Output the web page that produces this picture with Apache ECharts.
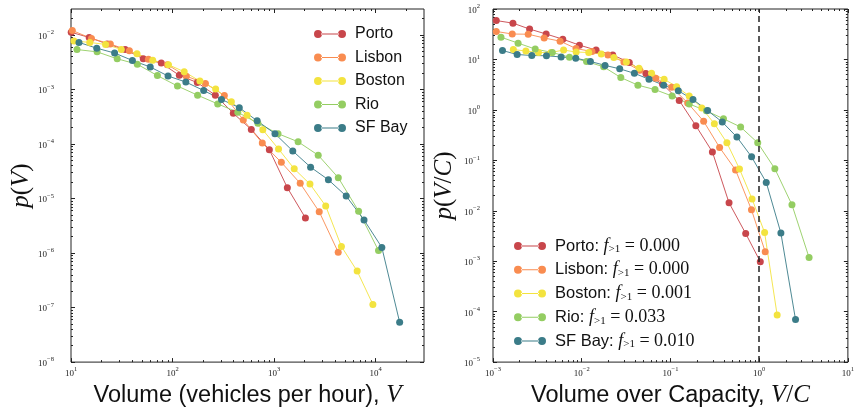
<!DOCTYPE html>
<html>
<head>
<meta charset="utf-8">
<script src="https://cdn.jsdelivr.net/npm/echarts@6/dist/echarts.min.js"></script>
<style>
    html, body { margin: 0; padding: 0; background: #fff; }
    #main { width: 857px; height: 413px; }
</style>
</head>
<body>
<div id="main"></div>
<script>
var cities = ['Porto', 'Lisbon', 'Boston', 'Rio', 'SF Bay'];
var colors = ['#c8464b', '#f98c50', '#f3e33f', '#94cd62', '#3b7c88'];
var fAbove = ['0.000', '0.000', '0.001', '0.033', '0.010'];

// left panel: volume V (vehicles per hour) -> p(V)
var portoV = [10.05, 15.1, 22.7, 34.2, 51.5, 77.5, 116.7, 175.4, 264, 397, 597, 899, 1352, 2037];
var portoP = [0.0112, 0.00902, 0.00686, 0.00541, 0.00366, 0.00306, 0.00182, 0.00134, 0.000787, 0.000366, 0.000185, 7.87e-5, 1.58e-5, 4.42e-6];
var lisbonV = [10.3, 15.9, 24.4, 37.6, 57.9, 88.9, 136.8, 210.9, 324, 498, 766, 1180, 1811, 2786, 4285];
var lisbonP = [0.0121, 0.00863, 0.00686, 0.00512, 0.00359, 0.00285, 0.00176, 0.00129, 0.000778, 0.000277, 0.000104, 4.61e-5, 1.90e-5, 5.73e-6, 1.04e-6];
var bostonV = [10.7, 15.3, 21.9, 31.3, 44.7, 63.8, 91.2, 130.3, 186.1, 265.9, 379.8, 542.6, 775.1, 1107, 1581, 2259, 3228, 4611, 6588, 9409];
var bostonP = [0.00778, 0.00731, 0.00671, 0.00545, 0.00452, 0.00344, 0.00285, 0.00212, 0.00143, 0.00102, 0.000597, 0.000337, 0.000182, 8.11e-5, 3.51e-5, 1.84e-5, 7.31e-6, 1.32e-6, 4.67e-7, 1.14e-7];
var rioV = [11.45, 18.07, 28.5, 44.98, 70.96, 111.9, 176.6, 278.6, 439.5, 693.4, 1094, 1726, 2723, 4295, 6808, 10690];
var rioP = [0.00541, 0.00491, 0.00366, 0.00291, 0.00180, 0.00116, 0.000787, 0.000545, 0.000382, 0.000241, 0.000155, 0.000110, 6.24e-5, 2.41e-5, 5.87e-6, 1.11e-6];
var sfV = [11.98, 17.94, 26.88, 40.26, 60.31, 90.35, 135.3, 202.7, 303.7, 454.8, 681.3, 1021, 1529, 2290, 3430, 5138, 7697, 11530, 17270];
var sfP = [0.00731, 0.00573, 0.00467, 0.00341, 0.00259, 0.00177, 0.00137, 0.000959, 0.000658, 0.000465, 0.000267, 0.000155, 7.46e-5, 3.77e-5, 2.21e-5, 1.11e-5, 4.06e-6, 1.27e-6, 5.38e-8];

// right panel: volume over capacity V/C -> p(V/C)
var portoR = [0.001089, 0.001678, 0.002585, 0.003972, 0.006116, 0.009424, 0.01452, 0.02236, 0.03436, 0.05292, 0.08152, 0.1256, 0.1934, 0.2972, 0.4578, 0.7052, 1.03];
var portoPR = [58.96, 52.44, 40.0, 31.9, 25.2, 19.2, 15.35, 12.25, 8.73, 5.244, 3.235, 1.536, 0.4857, 0.1468, 0.01435, 0.00354, 0.000977];
var lisbonR = [0.001089, 0.001648, 0.002493, 0.003771, 0.005705, 0.00863, 0.01305, 0.01975, 0.02988, 0.0452, 0.06838, 0.1034, 0.1565, 0.2367, 0.3581, 0.5417, 0.8194, 1.17];
var lisbonPR = [35.88, 31.91, 31.62, 26.64, 23.05, 16.44, 14.35, 12.25, 8.93, 6.085, 4.242, 2.825, 1.372, 0.5949, 0.1798, 0.06452, 0.01046, 0.001536];
var bostonR = [0.001695, 0.002349, 0.003254, 0.004509, 0.006247, 0.008655, 0.01199, 0.01661, 0.02302, 0.03189, 0.04419, 0.06122, 0.08482, 0.1175, 0.1628, 0.2256, 0.3126, 0.4331, 0.6000, 0.8313, 1.152, 1.596];
var bostonPR = [15.71, 14.68, 13.72, 13.72, 15.36, 14.03, 13.72, 12.82, 10.94, 8.93, 6.66, 5.315, 4.054, 2.889, 1.882, 1.094, 0.5314, 0.2224, 0.06752, 0.01719, 0.003703, 8.54e-5];
var rioR = [0.00123, 0.001918, 0.00299, 0.004663, 0.007271, 0.01134, 0.01768, 0.02757, 0.04299, 0.06703, 0.1045, 0.163, 0.2542, 0.3963, 0.618, 0.9636, 1.503, 2.343, 3.653];
var rioPR = [27.62, 21.06, 16.07, 13.72, 11.09, 9.135, 7.128, 4.377, 3.092, 2.523, 1.882, 1.311, 0.9559, 0.6661, 0.4578, 0.2224, 0.06813, 0.01311, 0.001182];
var sfR = [0.001279, 0.001871, 0.002737, 0.004003, 0.005855, 0.008565, 0.01253, 0.01832, 0.0268, 0.0392, 0.05734, 0.08387, 0.1227, 0.1795, 0.2625, 0.384, 0.5617, 0.8216, 1.2017, 1.7578, 2.571];
var sfPR = [15.02, 12.53, 11.98, 11.82, 11.19, 10.6, 9.135, 7.627, 6.512, 5.315, 4.054, 3.092, 2.39, 1.607, 0.9689, 0.5739, 0.2889, 0.1171, 0.03653, 0.003621, 6.97e-5];

// axis ranges and decade tick labels (exponents of 10)
var leftXRange = [10, 30000], leftXExps = [1, 2, 3, 4];
var leftYRange = [1e-8, 0.03], leftYExps = [-8, -7, -6, -5, -4, -3, -2];
var rightXRange = [0.001, 10], rightXExps = [-3, -2, -1, 0, 1];
var rightYRange = [1e-5, 100], rightYExps = [-5, -4, -3, -2, -1, 0, 1, 2];

var leftData = [[portoV, portoP], [lisbonV, lisbonP], [bostonV, bostonP], [rioV, rioP], [sfV, sfP]];
var rightData = [[portoR, portoPR], [lisbonR, lisbonPR], [bostonR, bostonPR], [rioR, rioPR], [sfR, sfPR]];

var chart = echarts.init(document.getElementById('main'));
var ink = '#222';

function minorTicks(range) {
    var lo = Math.log10(range[0]), hi = Math.log10(range[1]);
    var out = [];
    for (var e = Math.floor(lo); e <= Math.ceil(hi); e++) {
        for (var m = 2; m <= 9; m++) {
            var v = e + Math.log10(m);
            if (v > lo + 1e-9 && v < hi - 1e-9) out.push(v);
        }
    }
    return out;
}

function powLabel(v) {
    var s = v < 0 ? '\u2212' + Math.abs(v) : String(v);
    return '{b|10}{s|' + s + '}';
}

var tickRich = {
    b: { fontFamily: 'Liberation Serif', fontSize: 9, lineHeight: 12, color: ink, verticalAlign: 'bottom' },
    s: { fontFamily: 'Liberation Serif', fontSize: 6.5, lineHeight: 7, color: ink, verticalAlign: 'top' }
};
var nameRich = {
    t: { fontFamily: 'Liberation Sans', fontSize: 23.5, color: '#111' },
    i: { fontFamily: 'Liberation Serif', fontStyle: 'italic', fontSize: 25, color: '#111' },
    r: { fontFamily: 'Liberation Serif', fontSize: 25, color: '#111' }
};

// one hidden log axis carries the data, linear overlays (in log10 units) draw the ticks
function buildAxes(dim, g, range, exps, labelMargin, name, nameGap) {
    var lo = Math.log10(range[0]), hi = Math.log10(range[1]);
    var minors = minorTicks(range);
    var sides = dim === 'x' ? ['bottom', 'top'] : ['left', 'right'];
    var axes = [{ type: 'log', gridIndex: g, min: range[0], max: range[1], show: false }];
    sides.forEach(function (side, k) {
        [[exps, 4], [minors, 2]].forEach(function (tk, j) {
            var ax = {
                type: 'value', gridIndex: g, position: side, min: lo, max: hi,
                axisLine: { show: false, onZero: false },
                splitLine: { show: false },
                axisTick: { show: true, inside: true, length: tk[1], customValues: tk[0], lineStyle: { color: ink, width: 1 } },
                axisLabel: { show: false }
            };
            if (k === 0 && j === 0) {
                ax.axisLabel = { show: true, customValues: exps, margin: labelMargin, formatter: powLabel, rich: tickRich };
                ax.name = name;
                ax.nameLocation = 'middle';
                ax.nameGap = nameGap;
                ax.nameTextStyle = { rich: nameRich };
                if (dim === 'y') ax.nameRotate = 90;
            }
            axes.push(ax);
        });
    });
    return axes;
}

var xAxes = [].concat(
    buildAxes('x', 0, leftXRange, leftXExps, 4, '{t|Volume (vehicles per hour), }{i|V}', 16),
    buildAxes('x', 1, rightXRange, rightXExps, 4, '{t|Volume over Capacity, }{i|V}{r|/}{i|C}', 16)
);
var yAxes = [].concat(
    buildAxes('y', 0, leftYRange, leftYExps, 17, '{i|p}{r|(}{i|V}{r|)}', 36),
    buildAxes('y', 1, rightYRange, rightYExps, 13, '{i|p}{r|(}{i|V}{r|/}{i|C}{r|)}', 36)
);

var series = [];
function addSeries(data, axisIdx) {
    data.forEach(function (d, i) {
        series.push({
            name: cities[i],
            type: 'line',
            xAxisIndex: axisIdx,
            yAxisIndex: axisIdx,
            data: d[0].map(function (x, k) { return [x, d[1][k]]; }),
            symbol: 'circle',
            symbolSize: 7,
            showSymbol: true,
            itemStyle: { color: colors[i] },
            lineStyle: { color: colors[i], width: 1, opacity: 0.9 },
            emphasis: { disabled: true },
            animation: false
        });
    });
}
addSeries(leftData, 0);
addSeries(rightData, 5);

// V/C = 1 guide
series.push({
    type: 'line', xAxisIndex: 5, yAxisIndex: 5, data: [], animation: false,
    markLine: {
        silent: true, symbol: ['none', 'none'], label: { show: false },
        lineStyle: { color: ink, type: [6, 4], width: 1.5 },
        data: [{ xAxis: 1 }]
    }
});

var legendIcon = 'path://M0,4a4,4 0 1,0 8,0a4,4 0 1,0 -8,0z M24,4a4,4 0 1,0 8,0a4,4 0 1,0 -8,0z M7,3.5L25,3.5L25,4.5L7,4.5z';

var option = {
    backgroundColor: '#fff',
    grid: [
        { left: 71, top: 9, width: 353, height: 357, show: true, borderColor: ink, borderWidth: 1 },
        { left: 493, top: 9, width: 356, height: 357, show: true, borderColor: ink, borderWidth: 1 }
    ],
    xAxis: xAxes,
    yAxis: yAxes,
    legend: [
        {
            data: cities, orient: 'vertical', left: 309, top: 21,
            itemWidth: 32, itemHeight: 8, itemGap: 7.5, icon: legendIcon,
            selectedMode: false,
            formatter: function (n) { return '{g| }{t|' + n + '}'; },
            textStyle: {
                rich: {
                    g: { width: 4 },
                    t: { fontFamily: 'Liberation Sans', fontSize: 16, lineHeight: 16, color: '#111' }
                }
            }
        },
        {
            data: cities, orient: 'vertical', left: 509, top: 232,
            itemWidth: 32, itemHeight: 8, itemGap: 5.75, icon: legendIcon,
            selectedMode: false,
            formatter: function (n) {
                return '{g| }{t|' + n + ': }{i|f}{s|>1}{m| = ' + fAbove[cities.indexOf(n)] + '}';
            },
            textStyle: {
                rich: {
                    g: { width: 4 },
                    t: { fontFamily: 'Liberation Sans', fontSize: 16.5, lineHeight: 18, color: '#111' },
                    i: { fontFamily: 'Liberation Serif', fontStyle: 'italic', fontSize: 18, lineHeight: 18, color: '#111' },
                    s: { fontFamily: 'Liberation Serif', fontSize: 11, lineHeight: 11, color: '#111', verticalAlign: 'bottom' },
                    m: { fontFamily: 'Liberation Serif', fontSize: 18, lineHeight: 18, color: '#111' }
                }
            }
        }
    ],
    series: series
};

chart.setOption(option);
</script>
</body>
</html>
